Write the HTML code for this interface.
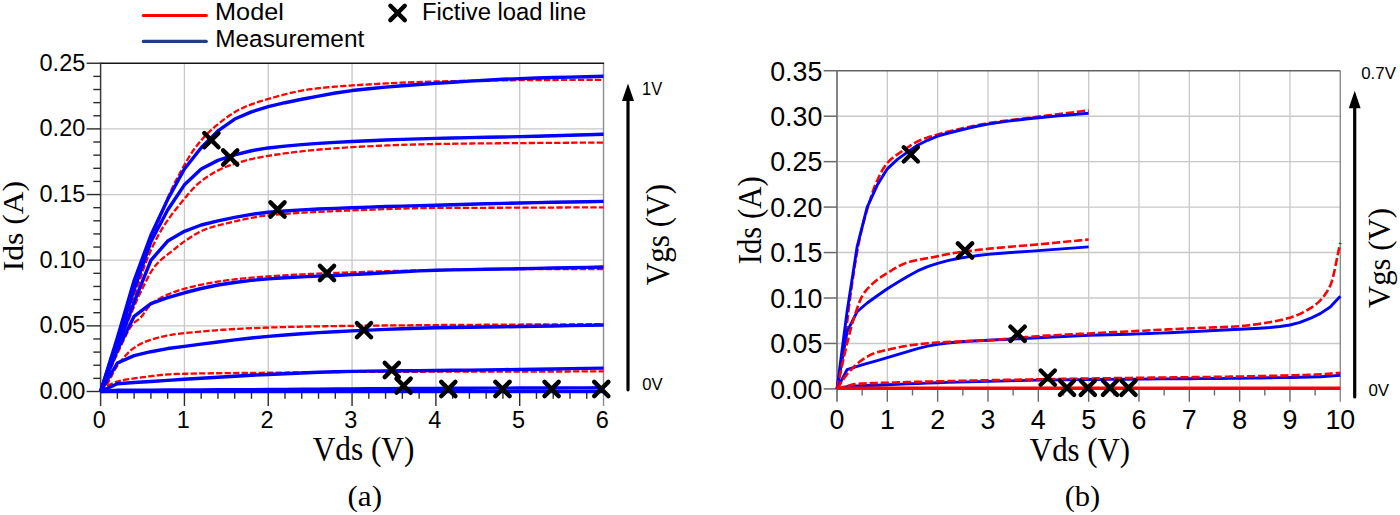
<!DOCTYPE html>
<html><head><meta charset="utf-8"><title>Ids-Vds characteristics</title><style>
html,body{margin:0;padding:0;background:#fff;width:1400px;height:515px;overflow:hidden}
svg{display:block}
text{fill:#000}
</style></head><body>
<svg width="1400" height="515" viewBox="0 0 1400 515">
<rect width="1400" height="515" fill="#fff"/>
<line x1="184.42" y1="63.25" x2="184.42" y2="391.5" stroke="#c8c8c8" stroke-width="1.3"/>
<line x1="268.24" y1="63.25" x2="268.24" y2="391.5" stroke="#c8c8c8" stroke-width="1.3"/>
<line x1="352.06" y1="63.25" x2="352.06" y2="391.5" stroke="#c8c8c8" stroke-width="1.3"/>
<line x1="435.88" y1="63.25" x2="435.88" y2="391.5" stroke="#c8c8c8" stroke-width="1.3"/>
<line x1="519.7" y1="63.25" x2="519.7" y2="391.5" stroke="#c8c8c8" stroke-width="1.3"/>
<line x1="100.6" y1="325.85" x2="603.52" y2="325.85" stroke="#c8c8c8" stroke-width="1.3"/>
<line x1="100.6" y1="260.2" x2="603.52" y2="260.2" stroke="#c8c8c8" stroke-width="1.3"/>
<line x1="100.6" y1="194.55" x2="603.52" y2="194.55" stroke="#c8c8c8" stroke-width="1.3"/>
<line x1="100.6" y1="128.9" x2="603.52" y2="128.9" stroke="#c8c8c8" stroke-width="1.3"/>
<line x1="603.52" y1="63.25" x2="603.52" y2="406" stroke="#8c8c8c" stroke-width="1.4"/>
<line x1="100.6" y1="63.25" x2="604.12" y2="63.25" stroke="#141414" stroke-width="1.5"/>
<line x1="100.6" y1="62.55" x2="100.6" y2="406" stroke="#3a3a3a" stroke-width="1.5"/>
<line x1="100.6" y1="391.5" x2="603.52" y2="391.5" stroke="#2a2a2a" stroke-width="1.4"/>
<line x1="86.6" y1="391.5" x2="100.6" y2="391.5" stroke="#2a2a2a" stroke-width="1.4"/>
<line x1="93.3" y1="378.37" x2="100.6" y2="378.37" stroke="#2a2a2a" stroke-width="1.4"/>
<line x1="93.3" y1="365.24" x2="100.6" y2="365.24" stroke="#2a2a2a" stroke-width="1.4"/>
<line x1="93.3" y1="352.11" x2="100.6" y2="352.11" stroke="#2a2a2a" stroke-width="1.4"/>
<line x1="93.3" y1="338.98" x2="100.6" y2="338.98" stroke="#2a2a2a" stroke-width="1.4"/>
<line x1="86.6" y1="325.85" x2="100.6" y2="325.85" stroke="#2a2a2a" stroke-width="1.4"/>
<line x1="93.3" y1="312.72" x2="100.6" y2="312.72" stroke="#2a2a2a" stroke-width="1.4"/>
<line x1="93.3" y1="299.59" x2="100.6" y2="299.59" stroke="#2a2a2a" stroke-width="1.4"/>
<line x1="93.3" y1="286.46" x2="100.6" y2="286.46" stroke="#2a2a2a" stroke-width="1.4"/>
<line x1="93.3" y1="273.33" x2="100.6" y2="273.33" stroke="#2a2a2a" stroke-width="1.4"/>
<line x1="86.6" y1="260.2" x2="100.6" y2="260.2" stroke="#2a2a2a" stroke-width="1.4"/>
<line x1="93.3" y1="247.07" x2="100.6" y2="247.07" stroke="#2a2a2a" stroke-width="1.4"/>
<line x1="93.3" y1="233.94" x2="100.6" y2="233.94" stroke="#2a2a2a" stroke-width="1.4"/>
<line x1="93.3" y1="220.81" x2="100.6" y2="220.81" stroke="#2a2a2a" stroke-width="1.4"/>
<line x1="93.3" y1="207.68" x2="100.6" y2="207.68" stroke="#2a2a2a" stroke-width="1.4"/>
<line x1="86.6" y1="194.55" x2="100.6" y2="194.55" stroke="#2a2a2a" stroke-width="1.4"/>
<line x1="93.3" y1="181.42" x2="100.6" y2="181.42" stroke="#2a2a2a" stroke-width="1.4"/>
<line x1="93.3" y1="168.29" x2="100.6" y2="168.29" stroke="#2a2a2a" stroke-width="1.4"/>
<line x1="93.3" y1="155.16" x2="100.6" y2="155.16" stroke="#2a2a2a" stroke-width="1.4"/>
<line x1="93.3" y1="142.03" x2="100.6" y2="142.03" stroke="#2a2a2a" stroke-width="1.4"/>
<line x1="86.6" y1="128.9" x2="100.6" y2="128.9" stroke="#2a2a2a" stroke-width="1.4"/>
<line x1="93.3" y1="115.77" x2="100.6" y2="115.77" stroke="#2a2a2a" stroke-width="1.4"/>
<line x1="93.3" y1="102.64" x2="100.6" y2="102.64" stroke="#2a2a2a" stroke-width="1.4"/>
<line x1="93.3" y1="89.51" x2="100.6" y2="89.51" stroke="#2a2a2a" stroke-width="1.4"/>
<line x1="93.3" y1="76.38" x2="100.6" y2="76.38" stroke="#2a2a2a" stroke-width="1.4"/>
<line x1="86.6" y1="63.25" x2="100.6" y2="63.25" stroke="#2a2a2a" stroke-width="1.4"/>
<line x1="117.36" y1="391.5" x2="117.36" y2="398.8" stroke="#2a2a2a" stroke-width="1.4"/>
<line x1="134.13" y1="391.5" x2="134.13" y2="398.8" stroke="#2a2a2a" stroke-width="1.4"/>
<line x1="150.89" y1="391.5" x2="150.89" y2="398.8" stroke="#2a2a2a" stroke-width="1.4"/>
<line x1="167.66" y1="391.5" x2="167.66" y2="398.8" stroke="#2a2a2a" stroke-width="1.4"/>
<line x1="184.42" y1="391.5" x2="184.42" y2="406" stroke="#2a2a2a" stroke-width="1.4"/>
<line x1="201.18" y1="391.5" x2="201.18" y2="398.8" stroke="#2a2a2a" stroke-width="1.4"/>
<line x1="217.95" y1="391.5" x2="217.95" y2="398.8" stroke="#2a2a2a" stroke-width="1.4"/>
<line x1="234.71" y1="391.5" x2="234.71" y2="398.8" stroke="#2a2a2a" stroke-width="1.4"/>
<line x1="251.48" y1="391.5" x2="251.48" y2="398.8" stroke="#2a2a2a" stroke-width="1.4"/>
<line x1="268.24" y1="391.5" x2="268.24" y2="406" stroke="#2a2a2a" stroke-width="1.4"/>
<line x1="285" y1="391.5" x2="285" y2="398.8" stroke="#2a2a2a" stroke-width="1.4"/>
<line x1="301.77" y1="391.5" x2="301.77" y2="398.8" stroke="#2a2a2a" stroke-width="1.4"/>
<line x1="318.53" y1="391.5" x2="318.53" y2="398.8" stroke="#2a2a2a" stroke-width="1.4"/>
<line x1="335.3" y1="391.5" x2="335.3" y2="398.8" stroke="#2a2a2a" stroke-width="1.4"/>
<line x1="352.06" y1="391.5" x2="352.06" y2="406" stroke="#2a2a2a" stroke-width="1.4"/>
<line x1="368.82" y1="391.5" x2="368.82" y2="398.8" stroke="#2a2a2a" stroke-width="1.4"/>
<line x1="385.59" y1="391.5" x2="385.59" y2="398.8" stroke="#2a2a2a" stroke-width="1.4"/>
<line x1="402.35" y1="391.5" x2="402.35" y2="398.8" stroke="#2a2a2a" stroke-width="1.4"/>
<line x1="419.12" y1="391.5" x2="419.12" y2="398.8" stroke="#2a2a2a" stroke-width="1.4"/>
<line x1="435.88" y1="391.5" x2="435.88" y2="406" stroke="#2a2a2a" stroke-width="1.4"/>
<line x1="452.64" y1="391.5" x2="452.64" y2="398.8" stroke="#2a2a2a" stroke-width="1.4"/>
<line x1="469.41" y1="391.5" x2="469.41" y2="398.8" stroke="#2a2a2a" stroke-width="1.4"/>
<line x1="486.17" y1="391.5" x2="486.17" y2="398.8" stroke="#2a2a2a" stroke-width="1.4"/>
<line x1="502.94" y1="391.5" x2="502.94" y2="398.8" stroke="#2a2a2a" stroke-width="1.4"/>
<line x1="519.7" y1="391.5" x2="519.7" y2="406" stroke="#2a2a2a" stroke-width="1.4"/>
<line x1="536.46" y1="391.5" x2="536.46" y2="398.8" stroke="#2a2a2a" stroke-width="1.4"/>
<line x1="553.23" y1="391.5" x2="553.23" y2="398.8" stroke="#2a2a2a" stroke-width="1.4"/>
<line x1="569.99" y1="391.5" x2="569.99" y2="398.8" stroke="#2a2a2a" stroke-width="1.4"/>
<line x1="586.76" y1="391.5" x2="586.76" y2="398.8" stroke="#2a2a2a" stroke-width="1.4"/>
<path d="M100.6 391.5 L102 387.34 L103.39 383.18 L104.79 379.03 L106.19 374.87 L107.58 370.71 L108.98 366.55 L110.38 362.4 L111.78 358.24 L113.17 354.08 L114.57 349.92 L115.97 345.76 L117.36 341.61 L118.76 337.45 L120.16 333.29 L121.55 329.13 L122.95 324.97 L124.35 320.82 L125.75 316.66 L127.14 312.5 L128.54 308.34 L129.94 304.19 L131.33 300.03 L132.73 295.87 L134.13 291.71 L135.65 287.15 L137.18 282.54 L138.7 277.9 L140.22 273.24 L141.75 268.6 L143.27 263.97 L144.8 259.39 L146.32 254.87 L147.84 250.42 L149.37 246.06 L150.89 241.82 L152.35 237.81 L153.81 233.82 L155.27 229.86 L156.74 225.92 L158.2 222.02 L159.66 218.17 L161.12 214.38 L162.58 210.64 L164.04 206.98 L165.5 203.39 L166.96 199.88 L168.42 196.47 L169.88 193.16 L171.34 189.95 L172.8 186.87 L174.25 183.89 L175.7 180.99 L177.16 178.18 L178.61 175.43 L180.06 172.75 L181.51 170.13 L182.97 167.55 L184.42 165.01 L185.94 162.37 L187.46 159.74 L188.98 157.17 L190.5 154.68 L192.02 152.29 L193.54 150.03 L195.07 147.94 L196.49 146.09 L197.92 144.29 L199.34 142.54 L200.76 140.85 L202.19 139.2 L203.61 137.61 L205.04 136.07 L206.46 134.57 L207.89 133.13 L209.31 131.74 L210.74 130.39 L212.16 129.1 L213.59 127.85 L214.99 126.65 L216.4 125.47 L217.8 124.31 L219.21 123.17 L220.61 122.04 L222.01 120.94 L223.42 119.86 L224.82 118.8 L226.23 117.77 L227.63 116.77 L229.03 115.79 L230.44 114.84 L231.84 113.92 L233.25 113.03 L234.65 112.17 L236.05 111.35 L237.46 110.56 L238.86 109.81 L240.27 109.09 L241.67 108.42 L243.07 107.77 L244.47 107.15 L245.86 106.55 L247.26 105.97 L248.66 105.41 L250.06 104.86 L251.46 104.33 L252.86 103.82 L254.26 103.32 L255.65 102.84 L257.05 102.37 L258.45 101.91 L259.85 101.47 L261.25 101.03 L262.65 100.6 L264.04 100.18 L265.44 99.77 L266.84 99.36 L268.24 98.96 L269.64 98.57 L271.03 98.17 L272.43 97.77 L273.83 97.38 L275.23 96.99 L276.62 96.6 L278.02 96.21 L279.42 95.83 L280.81 95.45 L282.21 95.08 L283.61 94.71 L285 94.35 L286.4 93.99 L287.8 93.64 L289.19 93.3 L290.59 92.96 L291.99 92.63 L293.39 92.31 L294.78 92 L296.18 91.69 L297.58 91.4 L298.97 91.11 L300.37 90.84 L301.77 90.58 L303.16 90.32 L304.56 90.08 L305.96 89.86 L307.36 89.64 L308.75 89.44 L310.15 89.25 L311.55 89.07 L312.94 88.89 L314.34 88.72 L315.74 88.56 L317.13 88.39 L318.53 88.24 L319.93 88.08 L321.33 87.94 L322.72 87.79 L324.12 87.65 L325.52 87.51 L326.91 87.38 L328.31 87.25 L329.71 87.12 L331.11 87 L332.5 86.88 L333.9 86.76 L335.3 86.64 L336.69 86.53 L338.09 86.42 L339.49 86.31 L340.88 86.21 L342.28 86.11 L343.68 86.01 L345.07 85.91 L346.47 85.81 L347.87 85.72 L349.27 85.62 L350.66 85.53 L352.06 85.44 L359.04 85 L366.03 84.57 L373.01 84.16 L380 83.77 L386.99 83.39 L393.97 83.04 L400.95 82.72 L407.94 82.41 L414.92 82.14 L421.91 81.9 L428.89 81.68 L435.88 81.5 L442.86 81.34 L449.85 81.19 L456.83 81.05 L463.82 80.91 L470.8 80.79 L477.79 80.67 L484.77 80.57 L491.76 80.47 L498.75 80.39 L505.73 80.31 L512.72 80.24 L519.7 80.19 L526.68 80.14 L533.67 80.1 L540.65 80.06 L547.64 80.02 L554.62 79.99 L561.61 79.96 L568.59 79.94 L575.58 79.91 L582.56 79.88 L589.55 79.85 L596.53 79.83 L603.52 79.79" fill="none" stroke="#ff0000" stroke-width="2.3" stroke-dasharray="6.3 2.2"/>
<path d="M100.6 391.5 L102 387.45 L103.39 383.38 L104.79 379.32 L106.19 375.25 L107.58 371.18 L108.98 367.11 L110.38 363.05 L111.78 358.99 L113.17 354.95 L114.57 350.92 L115.97 346.91 L117.36 342.92 L118.77 338.93 L120.17 334.97 L121.58 331.03 L122.98 327.1 L124.38 323.19 L125.79 319.29 L127.19 315.4 L128.6 311.51 L130 307.61 L131.4 303.72 L132.81 299.81 L134.21 295.89 L135.62 291.96 L137.02 288.01 L138.42 284.03 L139.83 280.03 L141.42 275.31 L143.01 270.47 L144.61 265.78 L146.2 261.51 L147.65 257.95 L149.1 254.5 L150.55 251.16 L152 247.93 L153.45 244.82 L154.9 241.82 L156.35 238.94 L157.8 236.19 L159.25 233.56 L160.7 231.05 L162.11 228.71 L163.53 226.44 L164.94 224.25 L166.36 222.12 L167.77 220.06 L169.19 218.05 L170.6 216.1 L172.01 214.19 L173.43 212.32 L174.84 210.5 L176.26 208.7 L177.67 206.94 L179.09 205.2 L180.5 203.47 L181.92 201.76 L183.33 200.06 L184.85 198.24 L186.36 196.41 L187.88 194.59 L189.4 192.8 L190.91 191.04 L192.43 189.34 L193.94 187.7 L195.46 186.14 L196.98 184.68 L198.49 183.32 L200.01 182.08 L201.47 180.96 L202.93 179.87 L204.4 178.8 L205.86 177.77 L207.32 176.77 L208.78 175.8 L210.25 174.85 L211.71 173.94 L213.17 173.07 L214.63 172.22 L216.09 171.41 L217.56 170.63 L219.02 169.89 L220.48 169.18 L221.94 168.51 L223.41 167.87 L224.87 167.28 L226.33 166.71 L227.73 166.2 L229.12 165.7 L230.52 165.21 L231.92 164.73 L233.31 164.26 L234.71 163.8 L236.11 163.35 L237.51 162.92 L238.9 162.49 L240.3 162.07 L241.7 161.66 L243.09 161.27 L244.49 160.88 L245.89 160.5 L247.28 160.14 L248.68 159.78 L250.08 159.44 L251.48 159.1 L252.87 158.77 L254.27 158.46 L255.67 158.15 L257.06 157.85 L258.46 157.56 L259.86 157.29 L261.25 157.02 L262.65 156.76 L264.05 156.51 L265.45 156.27 L266.84 156.04 L268.24 155.82 L275.23 154.76 L282.21 153.77 L289.19 152.85 L296.18 151.98 L303.16 151.18 L310.15 150.43 L317.13 149.75 L324.12 149.12 L331.11 148.54 L338.09 148.03 L345.07 147.56 L352.06 147.15 L359.04 146.77 L366.03 146.42 L373.01 146.08 L380 145.75 L386.99 145.45 L393.97 145.18 L400.95 144.92 L407.94 144.68 L414.92 144.48 L421.91 144.29 L428.89 144.13 L435.88 144 L442.86 143.89 L449.85 143.78 L456.83 143.69 L463.82 143.6 L470.8 143.52 L477.79 143.45 L484.77 143.38 L491.76 143.31 L498.75 143.25 L505.73 143.19 L512.72 143.14 L519.7 143.08 L526.68 143.03 L533.67 142.98 L540.65 142.93 L547.64 142.88 L554.62 142.84 L561.61 142.8 L568.59 142.76 L575.58 142.72 L582.56 142.68 L589.55 142.64 L596.53 142.6 L603.52 142.56" fill="none" stroke="#ff0000" stroke-width="2.3" stroke-dasharray="6.3 2.2"/>
<path d="M100.6 391.5 L102 387.88 L103.39 384.25 L104.79 380.6 L106.19 376.95 L107.58 373.3 L108.98 369.66 L110.38 366.02 L111.78 362.4 L113.17 358.8 L114.57 355.23 L115.97 351.68 L117.36 348.17 L118.78 344.62 L120.19 341.04 L121.61 337.45 L123.02 333.86 L124.44 330.26 L125.85 326.68 L127.27 323.12 L128.68 319.59 L130.09 316.1 L131.51 312.66 L132.92 309.28 L134.34 305.96 L135.75 302.72 L137.17 299.57 L138.58 296.51 L140 293.55 L141.41 290.64 L142.81 287.72 L144.22 284.82 L145.63 281.96 L147.04 279.17 L148.45 276.48 L149.86 273.91 L151.27 271.5 L152.68 269.27 L154.09 267.24 L155.5 265.45 L157 263.76 L158.49 262.19 L159.99 260.74 L161.48 259.38 L162.98 258.1 L164.47 256.88 L165.97 255.71 L167.46 254.56 L168.96 253.43 L170.45 252.3 L171.94 251.15 L173.44 249.96 L174.86 248.8 L176.29 247.64 L177.71 246.49 L179.14 245.36 L180.56 244.25 L181.99 243.18 L183.41 242.14 L184.84 241.16 L186.28 240.19 L187.72 239.23 L189.17 238.27 L190.61 237.32 L192.05 236.39 L193.5 235.48 L194.94 234.59 L196.38 233.73 L197.83 232.91 L199.27 232.13 L200.71 231.39 L202.15 230.7 L203.6 230.06 L205.04 229.48 L206.46 228.95 L207.88 228.45 L209.3 227.97 L210.72 227.51 L212.14 227.08 L213.56 226.66 L214.98 226.26 L216.39 225.88 L217.81 225.5 L219.23 225.14 L220.65 224.79 L222.07 224.45 L223.49 224.11 L224.91 223.77 L226.33 223.44 L227.73 223.11 L229.12 222.78 L230.52 222.44 L231.92 222.11 L233.31 221.78 L234.71 221.45 L236.11 221.13 L237.51 220.8 L238.9 220.48 L240.3 220.16 L241.7 219.84 L243.09 219.53 L244.49 219.23 L245.89 218.92 L247.28 218.63 L248.68 218.34 L250.08 218.06 L251.48 217.79 L252.87 217.52 L254.27 217.26 L255.67 217.02 L257.06 216.78 L258.46 216.55 L259.86 216.34 L261.25 216.13 L262.65 215.94 L264.05 215.76 L265.45 215.59 L266.84 215.44 L268.24 215.3 L275.23 214.66 L282.21 214.09 L289.19 213.57 L296.18 213.1 L303.16 212.67 L310.15 212.28 L317.13 211.93 L324.12 211.6 L331.11 211.29 L338.09 210.99 L345.07 210.71 L352.06 210.44 L359.04 210.16 L366.03 209.88 L373.01 209.61 L380 209.34 L386.99 209.08 L393.97 208.84 L400.95 208.61 L407.94 208.42 L414.92 208.24 L421.91 208.11 L428.89 208 L435.88 207.94 L442.86 207.91 L449.85 207.88 L456.83 207.85 L463.82 207.83 L470.8 207.81 L477.79 207.79 L484.77 207.78 L491.76 207.76 L498.75 207.74 L505.73 207.72 L512.72 207.7 L519.7 207.68 L526.68 207.65 L533.67 207.62 L540.65 207.59 L547.64 207.56 L554.62 207.53 L561.61 207.49 L568.59 207.46 L575.58 207.42 L582.56 207.39 L589.55 207.35 L596.53 207.32 L603.52 207.29" fill="none" stroke="#ff0000" stroke-width="2.3" stroke-dasharray="6.3 2.2"/>
<path d="M100.6 391.5 L102.02 388.29 L103.44 385.04 L104.86 381.76 L106.27 378.48 L107.69 375.19 L109.11 371.9 L110.53 368.63 L111.95 365.4 L113.37 362.2 L114.78 359.05 L116.2 355.96 L117.62 352.94 L119.04 350.01 L120.44 347.1 L121.84 344.1 L123.24 341.08 L124.64 338.09 L126.04 335.18 L127.44 332.4 L128.84 329.82 L130.24 327.48 L131.64 325.44 L133.04 323.75 L134.78 322.16 L136.52 320.9 L138.26 319.69 L140 318.23 L141.55 316.54 L143.11 314.52 L144.67 312.32 L146.22 310.08 L147.78 307.93 L149.34 306 L150.89 304.45 L152.44 303.18 L153.99 302.01 L155.54 300.93 L157.09 299.93 L158.65 299 L160.2 298.14 L161.75 297.33 L163.3 296.57 L164.72 295.9 L166.14 295.25 L167.56 294.63 L168.97 294.02 L170.39 293.44 L171.81 292.87 L173.23 292.33 L174.65 291.81 L176.07 291.3 L177.49 290.82 L178.91 290.36 L180.33 289.91 L181.75 289.49 L183.17 289.08 L184.59 288.69 L186.03 288.31 L187.47 287.94 L188.91 287.57 L190.35 287.21 L191.78 286.86 L193.22 286.51 L194.66 286.17 L196.1 285.84 L197.54 285.51 L198.98 285.2 L200.42 284.88 L201.86 284.58 L203.3 284.28 L204.74 283.99 L206.18 283.7 L207.62 283.42 L209.06 283.15 L210.5 282.89 L211.94 282.63 L213.38 282.38 L214.81 282.13 L216.25 281.9 L217.69 281.67 L219.13 281.44 L220.57 281.22 L222.01 281.01 L223.45 280.81 L224.89 280.61 L226.33 280.42 L227.73 280.24 L229.12 280.06 L230.52 279.89 L231.92 279.72 L233.31 279.55 L234.71 279.39 L236.11 279.23 L237.51 279.07 L238.9 278.92 L240.3 278.76 L241.7 278.62 L243.09 278.47 L244.49 278.33 L245.89 278.19 L247.28 278.05 L248.68 277.92 L250.08 277.79 L251.48 277.66 L252.87 277.54 L254.27 277.42 L255.67 277.3 L257.06 277.18 L258.46 277.07 L259.86 276.96 L261.25 276.85 L262.65 276.75 L264.05 276.64 L265.45 276.54 L266.84 276.45 L268.24 276.35 L275.23 275.89 L282.21 275.46 L289.19 275.06 L296.18 274.67 L303.16 274.31 L310.15 273.97 L317.13 273.65 L324.12 273.34 L331.11 273.06 L338.09 272.78 L345.07 272.53 L352.06 272.28 L359.04 272.04 L366.03 271.81 L373.01 271.59 L380 271.38 L386.99 271.18 L393.97 270.98 L400.95 270.8 L407.94 270.62 L414.92 270.46 L421.91 270.31 L428.89 270.17 L435.88 270.05 L442.86 269.93 L449.85 269.8 L456.83 269.68 L463.82 269.56 L470.8 269.45 L477.79 269.34 L484.77 269.25 L491.76 269.16 L498.75 269.09 L505.73 269.04 L512.72 269.01 L519.7 269 L526.68 269 L533.67 269 L540.65 269 L547.64 269 L554.62 269 L561.61 269 L568.59 269 L575.58 269 L582.56 269 L589.55 269 L596.53 269 L603.52 269" fill="none" stroke="#ff0000" stroke-width="2.3" stroke-dasharray="6.3 2.2"/>
<path d="M100.6 391.5 L102.61 389.77 L104.62 387.82 L106.08 385.94 L107.53 383.65 L108.98 381.05 L110.43 378.27 L111.89 375.4 L113.34 372.56 L114.79 369.85 L116.25 367.37 L117.7 365.24 L119.22 363.25 L120.73 361.32 L122.25 359.44 L123.76 357.62 L125.28 355.89 L126.8 354.24 L128.31 352.69 L129.83 351.24 L131.35 349.91 L132.86 348.71 L134.38 347.65 L135.78 346.75 L137.19 345.89 L138.59 345.08 L140 344.31 L141.4 343.59 L142.8 342.9 L144.21 342.26 L145.61 341.66 L147.02 341.09 L148.42 340.57 L149.82 340.08 L151.23 339.64 L152.64 339.21 L154.05 338.8 L155.46 338.4 L156.87 338.01 L158.29 337.64 L159.7 337.27 L161.11 336.93 L162.52 336.59 L163.93 336.27 L165.34 335.96 L166.76 335.67 L168.17 335.39 L169.58 335.13 L170.99 334.88 L172.4 334.64 L173.81 334.42 L175.23 334.22 L176.64 334.03 L178.05 333.86 L185.57 333.02 L193.08 332.24 L200.6 331.53 L208.11 330.88 L215.63 330.29 L223.14 329.75 L230.66 329.27 L238.18 328.83 L245.69 328.45 L253.21 328.11 L260.72 327.81 L268.24 327.56 L275.23 327.35 L282.21 327.15 L289.19 326.97 L296.18 326.81 L303.16 326.65 L310.15 326.51 L317.13 326.38 L324.12 326.26 L331.11 326.15 L338.09 326.04 L345.07 325.94 L352.06 325.85 L359.04 325.76 L366.03 325.68 L373.01 325.6 L380 325.53 L386.99 325.46 L393.97 325.4 L400.95 325.34 L407.94 325.28 L414.92 325.22 L421.91 325.17 L428.89 325.11 L435.88 325.06 L442.86 325.01 L449.85 324.96 L456.83 324.91 L463.82 324.87 L470.8 324.82 L477.79 324.78 L484.77 324.73 L491.76 324.69 L498.75 324.65 L505.73 324.61 L512.72 324.57 L519.7 324.54 L526.68 324.5 L533.67 324.46 L540.65 324.43 L547.64 324.4 L554.62 324.36 L561.61 324.33 L568.59 324.3 L575.58 324.27 L582.56 324.24 L589.55 324.21 L596.53 324.18 L603.52 324.14" fill="none" stroke="#ff0000" stroke-width="2.3" stroke-dasharray="6.3 2.2"/>
<path d="M100.6 391.5 L102.61 389.54 L104.62 387.82 L106.15 386.84 L107.68 385.91 L109.21 385.04 L110.73 384.23 L112.26 383.49 L113.79 382.82 L115.32 382.23 L116.84 381.7 L118.37 381.26 L119.83 380.89 L121.28 380.55 L122.74 380.24 L124.19 379.95 L125.65 379.68 L127.1 379.44 L128.56 379.2 L130.01 378.98 L131.47 378.77 L132.92 378.57 L134.38 378.37 L135.79 378.18 L137.2 377.98 L138.61 377.79 L140.01 377.6 L141.42 377.41 L142.83 377.22 L144.24 377.03 L145.65 376.84 L147.06 376.66 L148.47 376.47 L149.88 376.29 L151.28 376.12 L152.69 375.95 L154.1 375.78 L155.51 375.61 L156.92 375.45 L158.33 375.3 L159.74 375.15 L161.15 375.01 L162.55 374.87 L163.96 374.74 L165.37 374.62 L166.78 374.51 L168.19 374.4 L169.6 374.3 L171.01 374.21 L172.41 374.13 L173.82 374.06 L175.23 374 L176.64 373.95 L178.05 373.91 L185.57 373.73 L193.08 373.57 L200.6 373.44 L208.11 373.33 L215.63 373.23 L223.14 373.15 L230.66 373.08 L238.18 373.01 L245.69 372.94 L253.21 372.87 L260.72 372.8 L268.24 372.72 L275.23 372.65 L282.21 372.57 L289.19 372.49 L296.18 372.41 L303.16 372.33 L310.15 372.26 L317.13 372.19 L324.12 372.12 L331.11 372.06 L338.09 372.01 L345.07 371.97 L352.06 371.94 L359.04 371.91 L366.03 371.89 L373.01 371.86 L380 371.84 L386.99 371.82 L393.97 371.8 L400.95 371.78 L407.94 371.76 L414.92 371.74 L421.91 371.73 L428.89 371.71 L435.88 371.7 L442.86 371.68 L449.85 371.67 L456.83 371.66 L463.82 371.64 L470.8 371.63 L477.79 371.62 L484.77 371.61 L491.76 371.6 L498.75 371.59 L505.73 371.58 L512.71 371.56 L519.7 371.55 L526.68 371.54 L533.67 371.53 L540.65 371.52 L547.64 371.51 L554.62 371.5 L561.61 371.49 L568.6 371.48 L575.58 371.46 L582.56 371.45 L589.55 371.44 L596.53 371.43 L603.52 371.41" fill="none" stroke="#ff0000" stroke-width="2.3" stroke-dasharray="6.3 2.2"/>
<path d="M100.6 391.5 L117.36 337.67 L134.13 280.55 L150.89 235.25 L167.66 199.41 L184.42 168.95 L201.18 147.68 L217.95 130.87 L234.71 119.05 L251.48 111.83 L268.24 106.71 L285 102.72 L301.77 99.26 L318.53 96.05 L335.3 93.01 L352.06 90.56 L368.82 88.72 L385.59 87.14 L402.35 85.75 L419.12 84.5 L435.88 83.34 L452.64 82.22 L469.41 81.15 L486.17 80.18 L502.94 79.32 L519.7 78.61 L536.46 78.04 L553.23 77.55 L569.99 77.12 L586.76 76.7 L603.52 76.25" fill="none" stroke="#0000ff" stroke-width="3.4" stroke-linejoin="round"/>
<path d="M100.6 391.5 L117.36 340.29 L134.13 289.74 L150.89 241.82 L167.66 210.04 L184.42 184.83 L201.18 168.95 L217.95 160.37 L234.71 154.9 L251.48 150.74 L268.24 147.94 L285 146.1 L301.77 144.62 L318.53 143.4 L335.3 142.39 L352.06 141.5 L368.82 140.71 L385.59 140 L402.35 139.38 L419.12 138.83 L435.88 138.35 L452.64 137.96 L469.41 137.62 L486.17 137.32 L502.94 137.01 L519.7 136.65 L536.46 136.22 L553.23 135.76 L569.99 135.27 L586.76 134.77 L603.52 134.28" fill="none" stroke="#0000ff" stroke-width="3.4" stroke-linejoin="round"/>
<path d="M100.6 391.5 L117.36 346.86 L134.13 302.22 L150.89 260.33 L167.66 241.03 L184.42 231.31 L201.18 225.01 L217.95 220.81 L234.71 217.36 L251.48 214.35 L268.24 212.28 L285 210.97 L301.77 209.92 L318.53 209.07 L335.3 208.34 L352.06 207.68 L368.82 207.08 L385.59 206.56 L402.35 206.09 L419.12 205.64 L435.88 205.19 L452.64 204.71 L469.41 204.24 L486.17 203.78 L502.94 203.35 L519.7 202.95 L536.46 202.6 L553.23 202.28 L569.99 201.98 L586.76 201.68 L603.52 201.38" fill="none" stroke="#0000ff" stroke-width="3.4" stroke-linejoin="round"/>
<path d="M100.6 391.5 L117.36 350.01 L134.13 316.27 L150.89 303.66 L167.66 297.62 L184.42 292.76 L201.18 288.48 L217.95 285.02 L234.71 282.47 L251.48 280.38 L268.24 278.84 L285 277.75 L301.77 276.88 L318.53 276.14 L335.3 275.43 L352.06 274.64 L368.82 273.72 L385.59 272.73 L402.35 271.76 L419.12 270.92 L435.88 270.31 L452.64 269.9 L469.41 269.58 L486.17 269.3 L502.94 269.03 L519.7 268.73 L536.46 268.4 L553.23 268.06 L569.99 267.72 L586.76 267.37 L603.52 267.03" fill="none" stroke="#0000ff" stroke-width="3.4" stroke-linejoin="round"/>
<path d="M100.6 391.5 L117.36 363.01 L134.13 355.66 L150.89 351.72 L167.66 348.56 L184.42 346.33 L201.18 344.16 L217.95 341.97 L234.71 339.87 L251.48 337.96 L268.24 336.35 L285 335 L301.77 333.76 L318.53 332.66 L335.3 331.69 L352.06 330.84 L368.82 330.08 L385.59 329.39 L402.35 328.77 L419.12 328.24 L435.88 327.82 L452.64 327.49 L469.41 327.23 L486.17 326.99 L502.94 326.76 L519.7 326.51 L536.46 326.23 L553.23 325.94 L569.99 325.65 L586.76 325.35 L603.52 325.06" fill="none" stroke="#0000ff" stroke-width="3.4" stroke-linejoin="round"/>
<path d="M100.6 391.5 L117.36 383.75 L134.13 382.57 L150.89 381.44 L167.66 380.34 L184.42 379.29 L201.18 378.25 L217.95 377.2 L234.71 376.19 L251.48 375.25 L268.24 374.43 L285 373.69 L301.77 372.97 L318.53 372.32 L335.3 371.79 L352.06 371.41 L368.82 371.17 L385.59 370.98 L402.35 370.82 L419.12 370.67 L435.88 370.49 L452.64 370.29 L469.41 370.09 L486.17 369.89 L502.94 369.67 L519.7 369.44 L536.46 369.2 L553.23 368.94 L569.99 368.67 L586.76 368.4 L603.52 368.13" fill="none" stroke="#0000ff" stroke-width="3.4" stroke-linejoin="round"/>
<path d="M100.6 391.5 L117.36 390.32 L134.13 390.18 L150.89 390.08 L167.66 390 L184.42 389.92 L201.18 389.84 L217.95 389.77 L234.71 389.7 L251.48 389.62 L268.24 389.53 L285 389.42 L301.77 389.28 L318.53 389.14 L335.3 389 L352.06 388.87 L368.82 388.76 L385.59 388.64 L402.35 388.53 L419.12 388.43 L435.88 388.35 L452.64 388.28 L469.41 388.22 L486.17 388.16 L502.94 388.11 L519.7 388.06 L536.46 388.01 L553.23 387.97 L569.99 387.92 L586.76 387.87 L603.52 387.82" fill="none" stroke="#0000ff" stroke-width="3.4" stroke-linejoin="round"/>
<path d="M100.6 391.5 L117.36 391.5 L134.13 391.5 L150.89 391.5 L167.66 391.5 L184.42 391.5 L201.18 391.5 L217.95 391.5 L234.71 391.5 L251.48 391.5 L268.24 391.5 L285 391.5 L301.77 391.5 L318.53 391.5 L335.3 391.5 L352.06 391.5 L368.82 391.5 L385.59 391.5 L402.35 391.5 L419.12 391.5 L435.88 391.5 L452.64 391.5 L469.41 391.5 L486.17 391.5 L502.94 391.5 L519.7 391.5 L536.46 391.5 L553.23 391.5 L569.99 391.5 L586.76 391.5 L603.52 391.5" fill="none" stroke="#0000ff" stroke-width="3.4" stroke-linejoin="round"/>
<path d="M204.3 133.1 L218.5 147.3 M204.3 147.3 L218.5 133.1" stroke="#000" stroke-width="4.4" stroke-linecap="round"/>
<path d="M223.1 150.4 L237.3 164.6 M223.1 164.6 L237.3 150.4" stroke="#000" stroke-width="4.4" stroke-linecap="round"/>
<path d="M270.4 202.4 L284.6 216.6 M270.4 216.6 L284.6 202.4" stroke="#000" stroke-width="4.4" stroke-linecap="round"/>
<path d="M319.9 265.9 L334.1 280.1 M319.9 280.1 L334.1 265.9" stroke="#000" stroke-width="4.4" stroke-linecap="round"/>
<path d="M356.9 323 L371.1 337.2 M356.9 337.2 L371.1 323" stroke="#000" stroke-width="4.4" stroke-linecap="round"/>
<path d="M384.7 362.9 L398.9 377.1 M384.7 377.1 L398.9 362.9" stroke="#000" stroke-width="4.4" stroke-linecap="round"/>
<path d="M396.5 378.6 L410.7 392.8 M396.5 392.8 L410.7 378.6" stroke="#000" stroke-width="4.4" stroke-linecap="round"/>
<path d="M441.2 381.9 L455.4 396.1 M441.2 396.1 L455.4 381.9" stroke="#000" stroke-width="4.4" stroke-linecap="round"/>
<path d="M495.4 381.9 L509.6 396.1 M495.4 396.1 L509.6 381.9" stroke="#000" stroke-width="4.4" stroke-linecap="round"/>
<path d="M544.5 381.9 L558.7 396.1 M544.5 396.1 L558.7 381.9" stroke="#000" stroke-width="4.4" stroke-linecap="round"/>
<path d="M594.2 381.9 L608.4 396.1 M594.2 396.1 L608.4 381.9" stroke="#000" stroke-width="4.4" stroke-linecap="round"/>
<line x1="887.33" y1="70.75" x2="887.33" y2="388.9" stroke="#c8c8c8" stroke-width="1.3"/>
<line x1="937.66" y1="70.75" x2="937.66" y2="388.9" stroke="#c8c8c8" stroke-width="1.3"/>
<line x1="987.99" y1="70.75" x2="987.99" y2="388.9" stroke="#c8c8c8" stroke-width="1.3"/>
<line x1="1038.32" y1="70.75" x2="1038.32" y2="388.9" stroke="#c8c8c8" stroke-width="1.3"/>
<line x1="1088.65" y1="70.75" x2="1088.65" y2="388.9" stroke="#c8c8c8" stroke-width="1.3"/>
<line x1="1138.98" y1="70.75" x2="1138.98" y2="388.9" stroke="#c8c8c8" stroke-width="1.3"/>
<line x1="1189.31" y1="70.75" x2="1189.31" y2="388.9" stroke="#c8c8c8" stroke-width="1.3"/>
<line x1="1239.64" y1="70.75" x2="1239.64" y2="388.9" stroke="#c8c8c8" stroke-width="1.3"/>
<line x1="1289.97" y1="70.75" x2="1289.97" y2="388.9" stroke="#c8c8c8" stroke-width="1.3"/>
<line x1="837" y1="343.45" x2="1340.3" y2="343.45" stroke="#c8c8c8" stroke-width="1.4"/>
<line x1="837" y1="298" x2="1340.3" y2="298" stroke="#c8c8c8" stroke-width="1.4"/>
<line x1="837" y1="252.55" x2="1340.3" y2="252.55" stroke="#c8c8c8" stroke-width="1.4"/>
<line x1="837" y1="207.1" x2="1340.3" y2="207.1" stroke="#c8c8c8" stroke-width="1.4"/>
<line x1="837" y1="161.65" x2="1340.3" y2="161.65" stroke="#c8c8c8" stroke-width="1.4"/>
<line x1="837" y1="116.2" x2="1340.3" y2="116.2" stroke="#c8c8c8" stroke-width="1.4"/>
<line x1="1340.3" y1="70.75" x2="1340.3" y2="401.8" stroke="#8a8a8a" stroke-width="1.4"/>
<line x1="837" y1="70.75" x2="1340.3" y2="70.75" stroke="#626262" stroke-width="1.7"/>
<line x1="837" y1="70.75" x2="837" y2="401.8" stroke="#808080" stroke-width="1.9"/>
<line x1="837" y1="388.9" x2="1340.3" y2="388.9" stroke="#6a6a6a" stroke-width="1.4"/>
<line x1="823.7" y1="388.9" x2="837" y2="388.9" stroke="#6a6a6a" stroke-width="1.5"/>
<line x1="823.7" y1="343.45" x2="837" y2="343.45" stroke="#6a6a6a" stroke-width="1.5"/>
<line x1="823.7" y1="298" x2="837" y2="298" stroke="#6a6a6a" stroke-width="1.5"/>
<line x1="823.7" y1="252.55" x2="837" y2="252.55" stroke="#6a6a6a" stroke-width="1.5"/>
<line x1="823.7" y1="207.1" x2="837" y2="207.1" stroke="#6a6a6a" stroke-width="1.5"/>
<line x1="823.7" y1="161.65" x2="837" y2="161.65" stroke="#6a6a6a" stroke-width="1.5"/>
<line x1="823.7" y1="116.2" x2="837" y2="116.2" stroke="#6a6a6a" stroke-width="1.5"/>
<line x1="823.7" y1="70.75" x2="837" y2="70.75" stroke="#6a6a6a" stroke-width="1.5"/>
<line x1="862.16" y1="388.9" x2="862.16" y2="395.5" stroke="#6a6a6a" stroke-width="1.4"/>
<line x1="887.33" y1="388.9" x2="887.33" y2="401.8" stroke="#6a6a6a" stroke-width="1.4"/>
<line x1="912.5" y1="388.9" x2="912.5" y2="395.5" stroke="#6a6a6a" stroke-width="1.4"/>
<line x1="937.66" y1="388.9" x2="937.66" y2="401.8" stroke="#6a6a6a" stroke-width="1.4"/>
<line x1="962.83" y1="388.9" x2="962.83" y2="395.5" stroke="#6a6a6a" stroke-width="1.4"/>
<line x1="987.99" y1="388.9" x2="987.99" y2="401.8" stroke="#6a6a6a" stroke-width="1.4"/>
<line x1="1013.15" y1="388.9" x2="1013.15" y2="395.5" stroke="#6a6a6a" stroke-width="1.4"/>
<line x1="1038.32" y1="388.9" x2="1038.32" y2="401.8" stroke="#6a6a6a" stroke-width="1.4"/>
<line x1="1063.48" y1="388.9" x2="1063.48" y2="395.5" stroke="#6a6a6a" stroke-width="1.4"/>
<line x1="1088.65" y1="388.9" x2="1088.65" y2="401.8" stroke="#6a6a6a" stroke-width="1.4"/>
<line x1="1113.82" y1="388.9" x2="1113.82" y2="395.5" stroke="#6a6a6a" stroke-width="1.4"/>
<line x1="1138.98" y1="388.9" x2="1138.98" y2="401.8" stroke="#6a6a6a" stroke-width="1.4"/>
<line x1="1164.14" y1="388.9" x2="1164.14" y2="395.5" stroke="#6a6a6a" stroke-width="1.4"/>
<line x1="1189.31" y1="388.9" x2="1189.31" y2="401.8" stroke="#6a6a6a" stroke-width="1.4"/>
<line x1="1214.47" y1="388.9" x2="1214.47" y2="395.5" stroke="#6a6a6a" stroke-width="1.4"/>
<line x1="1239.64" y1="388.9" x2="1239.64" y2="401.8" stroke="#6a6a6a" stroke-width="1.4"/>
<line x1="1264.81" y1="388.9" x2="1264.81" y2="395.5" stroke="#6a6a6a" stroke-width="1.4"/>
<line x1="1289.97" y1="388.9" x2="1289.97" y2="401.8" stroke="#6a6a6a" stroke-width="1.4"/>
<line x1="1315.13" y1="388.9" x2="1315.13" y2="395.5" stroke="#6a6a6a" stroke-width="1.4"/>
<path d="M837 388.9 L837.94 383.33 L838.89 377.9 L839.83 372.54 L840.77 367.15 L841.72 361.64 L842.66 355.91 L843.61 349.88 L844.55 343.45 L845.39 337.1 L846.23 330.09 L847.07 322.73 L847.9 315.33 L848.74 308.2 L849.58 301.64 L850.44 295.39 L851.29 289.24 L852.15 283.23 L853 277.35 L853.86 271.65 L854.72 266.12 L855.57 260.79 L856.43 255.68 L857.28 250.81 L858.14 246.19 L858.98 241.9 L859.82 237.84 L860.66 233.98 L861.49 230.31 L862.33 226.81 L863.17 223.46 L864.18 219.67 L865.18 216.11 L866.19 212.72 L867.2 209.43 L868.2 206.19 L869.08 203.35 L869.95 200.49 L870.83 197.64 L871.7 194.86 L872.58 192.17 L873.45 189.62 L874.33 187.25 L875.2 185.1 L876.08 183.08 L876.96 181.11 L877.84 179.18 L878.72 177.31 L879.6 175.5 L880.49 173.75 L881.37 172.08 L882.25 170.47 L883.13 168.95 L884.01 167.52 L884.89 166.18 L885.77 164.93 L886.65 163.78 L887.53 162.74 L888.38 161.82 L889.23 160.95 L890.08 160.12 L890.93 159.34 L891.78 158.6 L892.63 157.89 L893.48 157.22 L894.33 156.57 L895.18 155.94 L896.02 155.33 L896.87 154.74 L897.72 154.15 L898.57 153.58 L899.42 153 L900.27 152.42 L901.12 151.83 L901.99 151.23 L902.85 150.63 L903.71 150.03 L904.58 149.44 L905.44 148.84 L906.31 148.26 L907.17 147.68 L908.04 147.1 L908.9 146.54 L909.77 145.98 L910.63 145.43 L911.5 144.89 L912.36 144.37 L913.23 143.85 L914.09 143.35 L914.96 142.86 L915.82 142.39 L916.69 141.94 L917.55 141.5 L918.42 141.08 L919.28 140.67 L920.15 140.29 L921.02 139.92 L921.9 139.56 L922.77 139.21 L923.65 138.87 L924.52 138.54 L925.4 138.22 L926.28 137.91 L927.15 137.61 L928.03 137.31 L928.9 137.03 L929.78 136.75 L930.65 136.47 L931.53 136.2 L932.41 135.93 L933.28 135.67 L934.16 135.41 L935.03 135.15 L935.91 134.89 L936.78 134.64 L937.66 134.38 L938.53 134.13 L939.41 133.88 L940.28 133.64 L941.15 133.4 L942.03 133.16 L942.9 132.93 L943.78 132.7 L944.65 132.48 L945.52 132.26 L946.4 132.04 L947.27 131.83 L948.14 131.61 L949.02 131.41 L949.89 131.2 L950.84 130.97 L951.8 130.75 L952.75 130.53 L953.7 130.31 L954.65 130.09 L955.61 129.86 L956.56 129.65 L957.51 129.43 L958.46 129.21 L959.42 128.99 L960.37 128.78 L961.32 128.56 L962.27 128.35 L963.23 128.14 L964.18 127.93 L965.13 127.72 L966.08 127.51 L967.04 127.31 L967.99 127.1 L968.94 126.9 L969.89 126.7 L970.85 126.5 L971.8 126.3 L972.75 126.11 L973.7 125.91 L974.66 125.72 L975.61 125.53 L976.56 125.35 L977.51 125.16 L978.47 124.98 L979.42 124.8 L980.37 124.62 L981.32 124.44 L982.28 124.27 L983.23 124.1 L984.18 123.93 L985.13 123.77 L986.09 123.61 L987.04 123.45 L987.99 123.29 L992.18 122.63 L996.38 122 L1000.57 121.4 L1004.77 120.83 L1008.96 120.28 L1013.15 119.75 L1017.35 119.23 L1021.54 118.72 L1025.74 118.21 L1029.93 117.7 L1034.13 117.18 L1038.32 116.65 L1042.51 116.12 L1046.71 115.59 L1050.9 115.06 L1055.1 114.54 L1059.29 114.02 L1063.48 113.5 L1067.68 112.98 L1071.87 112.46 L1076.07 111.94 L1080.26 111.42 L1084.46 110.9 L1088.65 110.38" fill="none" stroke="#ff0000" stroke-width="2.6" stroke-dasharray="8.2 2.9"/>
<path d="M837 388.9 L847.07 311.63 L857.13 246.73 L867.2 207.1 L877.26 185.1 L887.33 168.83 L897.4 159.38 L907.46 152.11 L917.53 145.29 L927.59 140.29 L937.66 136.2 L947.73 133.25 L957.79 130.74 L967.86 128.3 L977.92 126.02 L987.99 124.11 L998.06 122.56 L1008.12 121.18 L1018.19 119.95 L1028.25 118.81 L1038.32 117.75 L1048.39 116.75 L1058.45 115.85 L1068.52 115 L1078.58 114.16 L1088.65 113.29" fill="none" stroke="#0000ff" stroke-width="2.9" stroke-linejoin="round"/>
<path d="M837 388.9 L847.07 331.63 L857.13 311.54 L867.2 303 L877.26 295.73 L887.33 288.73 L897.4 282.55 L907.46 276.46 L917.53 270.91 L927.59 266.64 L937.66 263.37 L947.73 260.65 L957.79 258.46 L967.86 256.82 L977.92 255.47 L987.99 254.37 L998.06 253.47 L1008.12 252.7 L1018.19 252.02 L1028.25 251.35 L1038.32 250.64 L1048.39 249.9 L1058.45 249.15 L1068.52 248.4 L1078.58 247.66 L1088.65 246.91" fill="none" stroke="#0000ff" stroke-width="2.9" stroke-linejoin="round"/>
<path d="M837 388.9 L837.84 385.08 L838.68 381.22 L839.52 377.32 L840.36 373.41 L841.19 369.5 L842.03 365.61 L842.87 361.74 L843.71 357.93 L844.55 354.17 L845.39 350.5 L846.23 346.92 L847.07 343.45 L847.96 339.84 L848.85 336.26 L849.74 332.75 L850.63 329.35 L851.52 326.09 L852.42 322.99 L853.31 320.09 L854.18 317.35 L855.05 314.63 L855.93 311.95 L856.8 309.32 L857.68 306.79 L858.55 304.37 L859.42 302.08 L860.3 299.96 L861.17 298.03 L862.05 296.3 L862.92 294.82 L863.79 293.5 L864.66 292.27 L865.54 291.11 L866.41 290.02 L867.28 288.99 L868.15 288.01 L869.03 287.09 L869.9 286.21 L870.77 285.37 L871.64 284.56 L872.52 283.78 L873.39 283.03 L874.26 282.28 L875.13 281.55 L876.01 280.82 L876.88 280.1 L877.76 279.4 L878.64 278.73 L879.52 278.08 L880.4 277.44 L881.28 276.83 L882.16 276.23 L883.04 275.65 L883.92 275.08 L884.79 274.53 L885.67 273.98 L886.55 273.44 L887.43 272.91 L888.31 272.38 L889.18 271.85 L890.06 271.32 L890.93 270.79 L891.81 270.26 L892.68 269.73 L893.56 269.21 L894.43 268.69 L895.31 268.17 L896.18 267.67 L897.06 267.18 L897.93 266.69 L898.81 266.22 L899.68 265.76 L900.56 265.32 L901.44 264.89 L902.31 264.48 L903.19 264.09 L904.06 263.72 L904.94 263.37 L905.81 263.04 L906.69 262.74 L907.56 262.46 L908.41 262.21 L909.26 261.96 L910.11 261.73 L910.96 261.5 L911.8 261.29 L912.65 261.08 L913.5 260.87 L914.35 260.68 L915.2 260.48 L916.05 260.3 L916.9 260.12 L917.74 259.95 L918.59 259.78 L919.44 259.61 L920.29 259.45 L921.14 259.29 L921.99 259.14 L922.83 258.98 L923.68 258.83 L924.53 258.68 L925.38 258.54 L926.23 258.39 L927.08 258.24 L927.92 258.09 L928.77 257.95 L929.62 257.8 L930.47 257.65 L931.32 257.5 L932.17 257.35 L933.02 257.19 L933.86 257.04 L934.71 256.87 L935.56 256.71 L936.41 256.54 L937.26 256.37 L938.1 256.19 L938.94 256.01 L939.78 255.83 L940.63 255.64 L941.47 255.45 L942.31 255.26 L943.15 255.08 L943.99 254.89 L944.84 254.71 L945.68 254.53 L946.52 254.36 L947.36 254.19 L948.21 254.03 L949.05 253.88 L949.89 253.73 L950.84 253.57 L951.8 253.42 L952.75 253.27 L953.7 253.12 L954.65 252.97 L955.61 252.83 L956.56 252.68 L957.51 252.54 L958.46 252.4 L959.42 252.27 L960.37 252.13 L961.32 252 L962.27 251.86 L963.23 251.74 L964.18 251.61 L965.13 251.48 L966.08 251.36 L967.04 251.23 L967.99 251.11 L968.94 250.99 L969.89 250.87 L970.85 250.76 L971.8 250.64 L972.75 250.52 L973.7 250.41 L974.66 250.3 L975.61 250.19 L976.56 250.08 L977.51 249.97 L978.47 249.86 L979.42 249.75 L980.37 249.65 L981.32 249.54 L982.28 249.44 L983.23 249.33 L984.18 249.23 L985.13 249.13 L986.09 249.03 L987.04 248.92 L987.99 248.82 L992.18 248.39 L996.38 247.98 L1000.57 247.6 L1004.77 247.22 L1008.96 246.86 L1013.15 246.51 L1017.35 246.16 L1021.54 245.81 L1025.74 245.47 L1029.93 245.11 L1034.13 244.75 L1038.32 244.37 L1042.51 243.98 L1046.71 243.59 L1050.9 243.19 L1055.1 242.79 L1059.29 242.39 L1063.48 241.98 L1067.68 241.58 L1071.87 241.17 L1076.07 240.76 L1080.26 240.36 L1084.46 239.95 L1088.65 239.55" fill="none" stroke="#ff0000" stroke-width="2.6" stroke-dasharray="8.2 2.9"/>
<path d="M837 388.9 L847.07 369.63 L857.13 366.36 L867.2 363.4 L877.26 360.59 L887.33 357.72 L897.4 354.69 L907.46 351.63 L917.53 348.63 L927.59 346.18 L937.66 344.36 L947.73 343.01 L957.79 342 L967.86 341.31 L977.92 340.78 L987.99 340.27 L998.06 339.75 L1008.12 339.26 L1018.19 338.78 L1028.25 338.3 L1038.32 337.81 L1048.39 337.3 L1058.45 336.77 L1068.52 336.25 L1078.58 335.77 L1088.65 335.36 L1098.72 335.03 L1108.78 334.75 L1118.85 334.49 L1128.91 334.22 L1138.98 333.91 L1149.05 333.54 L1159.11 333.15 L1169.18 332.72 L1179.24 332.28 L1189.31 331.81 L1199.38 331.33 L1209.44 330.81 L1219.51 330.27 L1229.57 329.72 L1239.64 329.18 L1249.71 328.69 L1259.77 328.2 L1269.84 327.54 L1279.9 326.53 L1289.97 325 L1300.04 322.31 L1310.1 318.45 L1320.17 313.61 L1330.23 307 L1340.3 296.36" fill="none" stroke="#0000ff" stroke-width="2.9" stroke-linejoin="round"/>
<path d="M837 388.9 L837.85 387.67 L838.7 386.42 L839.54 385.15 L840.39 383.86 L841.24 382.57 L842.09 381.29 L842.94 380.02 L843.78 378.78 L844.63 377.56 L845.48 376.38 L846.33 375.26 L847.17 374.18 L848.02 373.17 L848.87 372.21 L849.72 371.26 L850.57 370.32 L851.42 369.41 L852.27 368.51 L853.12 367.64 L853.97 366.79 L854.82 365.96 L855.67 365.15 L856.52 364.37 L857.36 363.62 L858.21 362.89 L859.06 362.19 L859.91 361.52 L860.76 360.88 L861.61 360.27 L862.48 359.66 L863.36 359.07 L864.23 358.49 L865.11 357.93 L865.98 357.38 L866.85 356.85 L867.73 356.34 L868.6 355.86 L869.47 355.39 L870.35 354.95 L871.22 354.53 L872.09 354.14 L872.97 353.78 L873.84 353.45 L874.69 353.15 L875.54 352.86 L876.39 352.59 L877.24 352.33 L878.09 352.09 L878.94 351.85 L879.79 351.62 L880.64 351.4 L881.49 351.19 L882.33 350.99 L883.18 350.79 L884.03 350.59 L884.88 350.39 L885.73 350.2 L886.58 350.01 L887.43 349.81 L888.29 349.62 L889.14 349.42 L890 349.23 L890.85 349.03 L891.71 348.84 L892.56 348.65 L893.42 348.45 L894.28 348.27 L895.13 348.08 L895.99 347.89 L896.84 347.71 L897.7 347.53 L898.55 347.35 L899.41 347.18 L900.26 347.01 L901.12 346.84 L901.98 346.68 L902.83 346.51 L903.69 346.36 L904.54 346.2 L905.4 346.06 L906.25 345.91 L907.11 345.77 L907.97 345.64 L908.82 345.51 L909.68 345.39 L910.53 345.27 L911.37 345.16 L912.22 345.04 L913.06 344.93 L913.9 344.83 L914.74 344.72 L915.58 344.62 L916.42 344.51 L917.26 344.41 L918.11 344.31 L918.95 344.22 L919.79 344.12 L920.63 344.03 L921.47 343.93 L922.31 343.84 L923.15 343.75 L924 343.67 L924.84 343.58 L925.68 343.5 L926.52 343.42 L927.36 343.34 L928.2 343.26 L929.04 343.19 L929.89 343.11 L930.73 343.04 L931.57 342.97 L932.41 342.9 L933.25 342.84 L934.09 342.77 L934.93 342.71 L935.78 342.65 L936.62 342.6 L937.46 342.54 L941.7 342.28 L945.95 342.06 L950.19 341.86 L954.44 341.68 L958.68 341.52 L962.93 341.36 L967.17 341.21 L971.41 341.05 L975.66 340.88 L979.9 340.7 L984.15 340.5 L988.39 340.27 L989.64 340.19 L990.89 340.12 L992.14 340.03 L993.39 339.95 L994.63 339.86 L995.88 339.77 L997.13 339.67 L998.38 339.58 L999.63 339.48 L1000.87 339.38 L1002.12 339.27 L1003.37 339.17 L1004.62 339.06 L1005.87 338.95 L1007.12 338.84 L1008.36 338.73 L1009.61 338.61 L1010.86 338.5 L1012.11 338.38 L1013.36 338.27 L1014.6 338.15 L1015.85 338.04 L1017.1 337.92 L1018.35 337.81 L1019.6 337.7 L1020.85 337.58 L1022.09 337.47 L1023.34 337.36 L1024.59 337.25 L1025.84 337.14 L1027.09 337.03 L1028.33 336.93 L1029.58 336.83 L1030.83 336.72 L1032.08 336.63 L1033.33 336.53 L1034.58 336.44 L1035.82 336.35 L1037.07 336.26 L1038.32 336.18 L1042.51 335.91 L1046.71 335.66 L1050.9 335.41 L1055.1 335.18 L1059.29 334.95 L1063.48 334.73 L1067.68 334.52 L1071.87 334.3 L1076.07 334.09 L1080.26 333.88 L1084.46 333.67 L1088.65 333.45 L1092.84 333.23 L1097.04 333.02 L1101.23 332.8 L1105.43 332.59 L1109.62 332.38 L1113.82 332.17 L1118.01 331.96 L1122.2 331.75 L1126.4 331.54 L1130.59 331.33 L1134.79 331.12 L1138.98 330.91 L1143.17 330.69 L1147.37 330.48 L1151.56 330.26 L1155.76 330.04 L1159.95 329.83 L1164.14 329.61 L1168.34 329.39 L1172.53 329.18 L1176.73 328.97 L1180.92 328.76 L1185.12 328.56 L1189.31 328.36 L1193.5 328.18 L1197.7 328.01 L1201.89 327.85 L1206.09 327.7 L1210.28 327.55 L1214.47 327.41 L1218.67 327.25 L1222.86 327.08 L1227.06 326.89 L1231.25 326.68 L1235.45 326.45 L1239.64 326.18 L1240.48 326.12 L1241.32 326.06 L1242.16 325.99 L1243 325.91 L1243.83 325.84 L1244.67 325.76 L1245.51 325.67 L1246.35 325.58 L1247.19 325.49 L1248.03 325.4 L1248.87 325.3 L1249.71 325.2 L1250.54 325.09 L1251.38 324.98 L1252.22 324.87 L1253.06 324.76 L1253.9 324.64 L1254.74 324.53 L1255.58 324.41 L1256.42 324.29 L1257.26 324.16 L1258.09 324.04 L1258.93 323.91 L1259.77 323.78 L1260.61 323.66 L1261.45 323.53 L1262.29 323.39 L1263.13 323.26 L1263.97 323.13 L1264.81 323 L1265.64 322.86 L1266.48 322.73 L1267.32 322.59 L1268.16 322.45 L1269 322.31 L1269.84 322.17 L1270.68 322.03 L1271.52 321.88 L1272.35 321.73 L1273.19 321.57 L1274.03 321.42 L1274.87 321.26 L1275.71 321.1 L1276.55 320.93 L1277.39 320.76 L1278.23 320.59 L1279.07 320.41 L1279.9 320.23 L1280.74 320.04 L1281.58 319.85 L1282.42 319.65 L1283.26 319.45 L1284.1 319.24 L1284.94 319.03 L1285.78 318.81 L1286.61 318.59 L1287.45 318.36 L1288.29 318.12 L1289.13 317.88 L1289.97 317.63 L1290.81 317.38 L1291.65 317.11 L1292.49 316.84 L1293.33 316.55 L1294.16 316.26 L1295 315.95 L1295.84 315.63 L1296.68 315.31 L1297.52 314.97 L1298.36 314.62 L1299.2 314.26 L1300.04 313.88 L1300.87 313.5 L1301.71 313.1 L1302.55 312.69 L1303.39 312.27 L1304.23 311.83 L1305.07 311.39 L1305.91 310.93 L1306.75 310.45 L1307.59 309.96 L1308.42 309.46 L1309.26 308.94 L1310.1 308.41 L1310.94 307.87 L1311.78 307.3 L1312.62 306.73 L1313.46 306.14 L1314.3 305.53 L1315.13 304.91 L1315.97 304.26 L1316.81 303.59 L1317.65 302.88 L1318.49 302.13 L1319.33 301.34 L1320.17 300.51 L1321.01 299.63 L1321.85 298.69 L1322.68 297.7 L1323.52 296.65 L1324.36 295.53 L1325.2 294.35 L1326.04 293.1 L1326.88 291.77 L1327.72 290.36 L1328.56 288.87 L1329.4 287.3 L1330.23 285.64 L1331.15 283.42 L1332.06 280.57 L1332.98 277.18 L1333.89 273.35 L1334.81 269.19 L1335.72 264.8 L1336.64 260.27 L1337.55 255.71 L1338.47 251.21 L1339.38 246.88 L1340.3 242.82" fill="none" stroke="#ff0000" stroke-width="2.6" stroke-dasharray="8.2 2.9"/>
<path d="M837 388.9 L847.07 386.63 L857.13 385.93 L867.2 385.5 L877.26 385.18 L887.33 384.81 L897.4 384.37 L907.46 383.92 L917.53 383.48 L927.59 383.08 L937.66 382.72 L947.73 382.41 L957.79 382.12 L967.86 381.86 L977.92 381.61 L987.99 381.36 L998.06 381.1 L1008.12 380.83 L1018.19 380.58 L1028.25 380.36 L1038.32 380.17 L1048.39 380.03 L1058.45 379.89 L1068.52 379.77 L1078.58 379.66 L1088.65 379.55 L1098.72 379.45 L1108.78 379.36 L1118.85 379.27 L1128.91 379.18 L1138.98 379.08 L1149.05 378.99 L1159.11 378.91 L1169.18 378.84 L1179.24 378.77 L1189.31 378.7 L1199.38 378.63 L1209.44 378.55 L1219.51 378.46 L1229.57 378.37 L1239.64 378.26 L1249.71 378.14 L1259.77 377.99 L1269.84 377.82 L1279.9 377.64 L1289.97 377.45 L1300.04 377.26 L1310.1 377.04 L1320.17 376.72 L1330.23 376.17 L1340.3 375.26" fill="none" stroke="#0000ff" stroke-width="2.9" stroke-linejoin="round"/>
<path d="M837 388.9 L837.86 388.68 L838.71 388.45 L839.57 388.21 L840.42 387.97 L841.28 387.71 L842.13 387.45 L842.99 387.19 L843.84 386.93 L844.7 386.66 L845.56 386.4 L846.41 386.14 L847.27 385.89 L848.12 385.64 L848.98 385.4 L849.83 385.17 L850.69 384.96 L851.55 384.75 L852.4 384.56 L853.26 384.38 L854.11 384.23 L854.97 384.09 L855.82 383.97 L856.68 383.88 L857.53 383.81 L858.39 383.75 L859.24 383.7 L860.1 383.65 L860.95 383.6 L861.81 383.56 L862.66 383.51 L863.51 383.47 L864.37 383.43 L865.22 383.39 L866.08 383.36 L866.93 383.32 L867.78 383.29 L868.64 383.26 L869.49 383.23 L870.35 383.2 L871.2 383.17 L872.06 383.15 L872.91 383.12 L873.76 383.1 L874.62 383.07 L875.47 383.05 L876.33 383.02 L877.18 383 L878.03 382.98 L878.89 382.96 L879.74 382.93 L880.6 382.91 L881.45 382.89 L882.31 382.87 L883.16 382.84 L884.01 382.82 L884.87 382.8 L885.72 382.77 L886.58 382.75 L887.43 382.72 L888.68 382.68 L889.93 382.64 L891.18 382.6 L892.43 382.56 L893.68 382.53 L894.93 382.49 L896.19 382.45 L897.44 382.41 L898.69 382.38 L899.94 382.34 L901.19 382.3 L902.44 382.27 L903.69 382.23 L904.94 382.2 L906.19 382.16 L907.44 382.13 L908.69 382.09 L909.94 382.06 L911.19 382.03 L912.44 381.99 L913.7 381.96 L914.95 381.92 L916.2 381.89 L917.45 381.86 L918.7 381.83 L919.95 381.79 L921.2 381.76 L922.45 381.73 L923.7 381.7 L924.95 381.67 L926.2 381.63 L927.45 381.6 L928.7 381.57 L929.95 381.54 L931.21 381.51 L932.46 381.48 L933.71 381.45 L934.96 381.42 L936.21 381.39 L937.46 381.36 L941.92 381.25 L946.38 381.14 L950.84 381.04 L955.3 380.93 L959.77 380.83 L964.23 380.73 L968.69 380.63 L973.15 380.53 L977.61 380.44 L982.07 380.34 L986.53 380.25 L991 380.16 L995.46 380.08 L999.92 379.99 L1004.13 379.91 L1008.35 379.84 L1012.56 379.76 L1016.77 379.69 L1020.99 379.61 L1025.2 379.54 L1029.42 379.47 L1033.63 379.39 L1037.84 379.32 L1042.06 379.25 L1046.27 379.19 L1050.49 379.12 L1054.7 379.05 L1058.91 378.98 L1063.13 378.92 L1067.34 378.85 L1071.56 378.79 L1075.77 378.72 L1079.98 378.66 L1084.2 378.6 L1088.41 378.53 L1092.63 378.47 L1096.84 378.41 L1101.05 378.35 L1105.27 378.29 L1109.48 378.23 L1113.7 378.17 L1117.91 378.11 L1122.12 378.05 L1126.34 377.99 L1130.55 377.93 L1134.77 377.87 L1138.98 377.81 L1143.17 377.75 L1147.37 377.7 L1151.56 377.64 L1155.76 377.59 L1159.95 377.54 L1164.14 377.49 L1168.34 377.45 L1172.53 377.4 L1176.73 377.35 L1180.92 377.31 L1185.12 377.26 L1189.31 377.21 L1193.5 377.17 L1197.7 377.12 L1201.89 377.07 L1206.09 377.02 L1210.28 376.97 L1214.47 376.91 L1218.67 376.86 L1222.86 376.8 L1227.06 376.74 L1231.25 376.67 L1235.45 376.61 L1239.64 376.54 L1243.83 376.46 L1248.03 376.38 L1252.22 376.29 L1256.42 376.2 L1260.61 376.11 L1264.81 376 L1269 375.9 L1273.19 375.79 L1277.39 375.69 L1281.58 375.58 L1285.78 375.47 L1289.97 375.36 L1290.81 375.33 L1291.65 375.31 L1292.49 375.29 L1293.33 375.27 L1294.16 375.25 L1295 375.23 L1295.84 375.21 L1296.68 375.19 L1297.52 375.17 L1298.36 375.15 L1299.2 375.12 L1300.04 375.1 L1300.87 375.08 L1301.71 375.06 L1302.55 375.04 L1303.39 375.02 L1304.23 374.99 L1305.07 374.97 L1305.91 374.94 L1306.75 374.92 L1307.59 374.89 L1308.42 374.87 L1309.26 374.84 L1310.1 374.81 L1310.94 374.79 L1311.78 374.76 L1312.62 374.73 L1313.46 374.69 L1314.3 374.66 L1315.13 374.63 L1315.97 374.59 L1316.81 374.55 L1317.65 374.51 L1318.49 374.47 L1319.33 374.42 L1320.17 374.37 L1321.01 374.32 L1321.85 374.27 L1322.68 374.21 L1323.52 374.16 L1324.36 374.1 L1325.2 374.04 L1326.04 373.98 L1326.88 373.92 L1327.72 373.85 L1328.56 373.79 L1329.4 373.72 L1330.23 373.66 L1331.07 373.59 L1331.91 373.53 L1332.75 373.46 L1333.59 373.4 L1334.43 373.33 L1335.27 373.27 L1336.11 373.21 L1336.94 373.14 L1337.78 373.08 L1338.62 373.02 L1339.46 372.96 L1340.3 372.9" fill="none" stroke="#ff0000" stroke-width="2.6" stroke-dasharray="8.2 2.9"/>
<line x1="837" y1="388.2" x2="1340.3" y2="388.2" stroke="#ff0000" stroke-width="3.4"/>
<path d="M903.7 147.3 L917.9 161.5 M903.7 161.5 L917.9 147.3" stroke="#000" stroke-width="4.4" stroke-linecap="round"/>
<path d="M957.9 243.4 L972.1 257.6 M957.9 257.6 L972.1 243.4" stroke="#000" stroke-width="4.4" stroke-linecap="round"/>
<path d="M1010.5 326.7 L1024.7 340.9 M1010.5 340.9 L1024.7 326.7" stroke="#000" stroke-width="4.4" stroke-linecap="round"/>
<path d="M1040.7 370.5 L1054.9 384.7 M1040.7 384.7 L1054.9 370.5" stroke="#000" stroke-width="4.4" stroke-linecap="round"/>
<path d="M1059.9 380.7 L1074.1 394.9 M1059.9 394.9 L1074.1 380.7" stroke="#000" stroke-width="4.4" stroke-linecap="round"/>
<path d="M1080.7 380.7 L1094.9 394.9 M1080.7 394.9 L1094.9 380.7" stroke="#000" stroke-width="4.4" stroke-linecap="round"/>
<path d="M1102.9 380.7 L1117.1 394.9 M1102.9 394.9 L1117.1 380.7" stroke="#000" stroke-width="4.4" stroke-linecap="round"/>
<path d="M1121.4 380.7 L1135.6 394.9 M1121.4 394.9 L1135.6 380.7" stroke="#000" stroke-width="4.4" stroke-linecap="round"/>
<text x="85.3" y="398.9" style="font-family:&quot;Liberation Sans&quot;,sans-serif;font-size:23.5px" text-anchor="end">0.00</text>
<text x="85.3" y="333.25" style="font-family:&quot;Liberation Sans&quot;,sans-serif;font-size:23.5px" text-anchor="end">0.05</text>
<text x="85.3" y="267.6" style="font-family:&quot;Liberation Sans&quot;,sans-serif;font-size:23.5px" text-anchor="end">0.10</text>
<text x="85.3" y="201.95" style="font-family:&quot;Liberation Sans&quot;,sans-serif;font-size:23.5px" text-anchor="end">0.15</text>
<text x="85.3" y="136.3" style="font-family:&quot;Liberation Sans&quot;,sans-serif;font-size:23.5px" text-anchor="end">0.20</text>
<text x="85.3" y="70.65" style="font-family:&quot;Liberation Sans&quot;,sans-serif;font-size:23.5px" text-anchor="end">0.25</text>
<text x="99.4" y="428.4" style="font-family:&quot;Liberation Sans&quot;,sans-serif;font-size:23.5px" text-anchor="middle">0</text>
<text x="183.22" y="428.4" style="font-family:&quot;Liberation Sans&quot;,sans-serif;font-size:23.5px" text-anchor="middle">1</text>
<text x="267.04" y="428.4" style="font-family:&quot;Liberation Sans&quot;,sans-serif;font-size:23.5px" text-anchor="middle">2</text>
<text x="350.86" y="428.4" style="font-family:&quot;Liberation Sans&quot;,sans-serif;font-size:23.5px" text-anchor="middle">3</text>
<text x="434.68" y="428.4" style="font-family:&quot;Liberation Sans&quot;,sans-serif;font-size:23.5px" text-anchor="middle">4</text>
<text x="518.5" y="428.4" style="font-family:&quot;Liberation Sans&quot;,sans-serif;font-size:23.5px" text-anchor="middle">5</text>
<text x="602.32" y="428.4" style="font-family:&quot;Liberation Sans&quot;,sans-serif;font-size:23.5px" text-anchor="middle">6</text>
<text x="822.3" y="398.7" style="font-family:&quot;Liberation Sans&quot;,sans-serif;font-size:26.8px" text-anchor="end">0.00</text>
<text x="822.3" y="353.25" style="font-family:&quot;Liberation Sans&quot;,sans-serif;font-size:26.8px" text-anchor="end">0.05</text>
<text x="822.3" y="307.8" style="font-family:&quot;Liberation Sans&quot;,sans-serif;font-size:26.8px" text-anchor="end">0.10</text>
<text x="822.3" y="262.35" style="font-family:&quot;Liberation Sans&quot;,sans-serif;font-size:26.8px" text-anchor="end">0.15</text>
<text x="822.3" y="216.9" style="font-family:&quot;Liberation Sans&quot;,sans-serif;font-size:26.8px" text-anchor="end">0.20</text>
<text x="822.3" y="171.45" style="font-family:&quot;Liberation Sans&quot;,sans-serif;font-size:26.8px" text-anchor="end">0.25</text>
<text x="822.3" y="126" style="font-family:&quot;Liberation Sans&quot;,sans-serif;font-size:26.8px" text-anchor="end">0.30</text>
<text x="822.3" y="80.55" style="font-family:&quot;Liberation Sans&quot;,sans-serif;font-size:26.8px" text-anchor="end">0.35</text>
<text x="837" y="428.6" style="font-family:&quot;Liberation Sans&quot;,sans-serif;font-size:26.8px" text-anchor="middle">0</text>
<text x="887.33" y="428.6" style="font-family:&quot;Liberation Sans&quot;,sans-serif;font-size:26.8px" text-anchor="middle">1</text>
<text x="937.66" y="428.6" style="font-family:&quot;Liberation Sans&quot;,sans-serif;font-size:26.8px" text-anchor="middle">2</text>
<text x="987.99" y="428.6" style="font-family:&quot;Liberation Sans&quot;,sans-serif;font-size:26.8px" text-anchor="middle">3</text>
<text x="1038.32" y="428.6" style="font-family:&quot;Liberation Sans&quot;,sans-serif;font-size:26.8px" text-anchor="middle">4</text>
<text x="1088.65" y="428.6" style="font-family:&quot;Liberation Sans&quot;,sans-serif;font-size:26.8px" text-anchor="middle">5</text>
<text x="1138.98" y="428.6" style="font-family:&quot;Liberation Sans&quot;,sans-serif;font-size:26.8px" text-anchor="middle">6</text>
<text x="1189.31" y="428.6" style="font-family:&quot;Liberation Sans&quot;,sans-serif;font-size:26.8px" text-anchor="middle">7</text>
<text x="1239.64" y="428.6" style="font-family:&quot;Liberation Sans&quot;,sans-serif;font-size:26.8px" text-anchor="middle">8</text>
<text x="1289.97" y="428.6" style="font-family:&quot;Liberation Sans&quot;,sans-serif;font-size:26.8px" text-anchor="middle">9</text>
<text x="1340.3" y="428.6" style="font-family:&quot;Liberation Sans&quot;,sans-serif;font-size:26.8px" text-anchor="middle">10</text>
<text x="215.1" y="20.1" style="font-family:&quot;Liberation Sans&quot;,sans-serif;font-size:24.44px" textLength="68.71" lengthAdjust="spacingAndGlyphs">Model</text>
<text x="215.25" y="47.05" style="font-family:&quot;Liberation Sans&quot;,sans-serif;font-size:23.35px" textLength="148.97" lengthAdjust="spacingAndGlyphs">Measurement</text>
<text x="422" y="20" style="font-family:&quot;Liberation Sans&quot;,sans-serif;font-size:24.18px" textLength="164.35" lengthAdjust="spacingAndGlyphs">Fictive load line</text>
<text x="642" y="94.5" style="font-family:&quot;Liberation Sans&quot;,sans-serif;font-size:17.68px" textLength="20.10" lengthAdjust="spacingAndGlyphs">1V</text>
<text x="642.3" y="390" style="font-family:&quot;Liberation Sans&quot;,sans-serif;font-size:16.40px" textLength="20.46" lengthAdjust="spacingAndGlyphs">0V</text>
<text x="1361.2" y="79.1" style="font-family:&quot;Liberation Sans&quot;,sans-serif;font-size:16.40px" textLength="34.72" lengthAdjust="spacingAndGlyphs">0.7V</text>
<text x="1368.4" y="396.4" style="font-family:&quot;Liberation Sans&quot;,sans-serif;font-size:16.34px" textLength="20.76" lengthAdjust="spacingAndGlyphs">0V</text>
<text x="312.7" y="460" style="font-family:&quot;Liberation Serif&quot;,serif;font-size:32.88px" textLength="101.60" lengthAdjust="spacingAndGlyphs">Vds (V)</text>
<text x="1029.85" y="460.8" style="font-family:&quot;Liberation Serif&quot;,serif;font-size:33.59px" textLength="100.30" lengthAdjust="spacingAndGlyphs">Vds (V)</text>
<text x="347.5" y="505.8" style="font-family:&quot;Liberation Serif&quot;,serif;font-size:29.53px" textLength="34.58" lengthAdjust="spacingAndGlyphs">(a)</text>
<text x="1064.65" y="505.8" style="font-family:&quot;Liberation Serif&quot;,serif;font-size:29.87px" textLength="35.57" lengthAdjust="spacingAndGlyphs">(b)</text>
<text transform="translate(23.4 271.3) rotate(-90)" style="font-family:&quot;Liberation Serif&quot;,serif;font-size:29.34px" textLength="90.42" lengthAdjust="spacingAndGlyphs">Ids (A)</text>
<text transform="translate(760.65 264.3) rotate(-90)" style="font-family:&quot;Liberation Serif&quot;,serif;font-size:32.76px" textLength="88.15" lengthAdjust="spacingAndGlyphs">Ids (A)</text>
<text transform="translate(668.5 285.2) rotate(-90)" style="font-family:&quot;Liberation Serif&quot;,serif;font-size:34.64px" textLength="101.21" lengthAdjust="spacingAndGlyphs">Vgs (V)</text>
<text transform="translate(1390 308) rotate(-90)" style="font-family:&quot;Liberation Serif&quot;,serif;font-size:32.49px" textLength="99.93" lengthAdjust="spacingAndGlyphs">Vgs (V)</text>
<line x1="628" y1="98.9" x2="628" y2="389.8" stroke="#000" stroke-width="3.2" stroke-linecap="round"/>
<path d="M628 83.5 L622 100.9 L634 100.9 Z" fill="#000"/>
<line x1="1354.7" y1="106.3" x2="1354.7" y2="396.9" stroke="#000" stroke-width="3.2" stroke-linecap="round"/>
<path d="M1354.7 90.8 L1348.8 108.3 L1360.6 108.3 Z" fill="#000"/>
<line x1="143.3" y1="15.5" x2="206.3" y2="15.5" stroke="#ff0000" stroke-width="3.1" stroke-linecap="round"/>
<line x1="143.3" y1="41.4" x2="206.3" y2="41.4" stroke="#1f3f80" stroke-width="3.1" stroke-linecap="round"/>
<path d="M390.4 5.75 L404.8 20.15 M390.4 20.15 L404.8 5.75" stroke="#000" stroke-width="4.4" stroke-linecap="round"/>
</svg>
</body></html>
